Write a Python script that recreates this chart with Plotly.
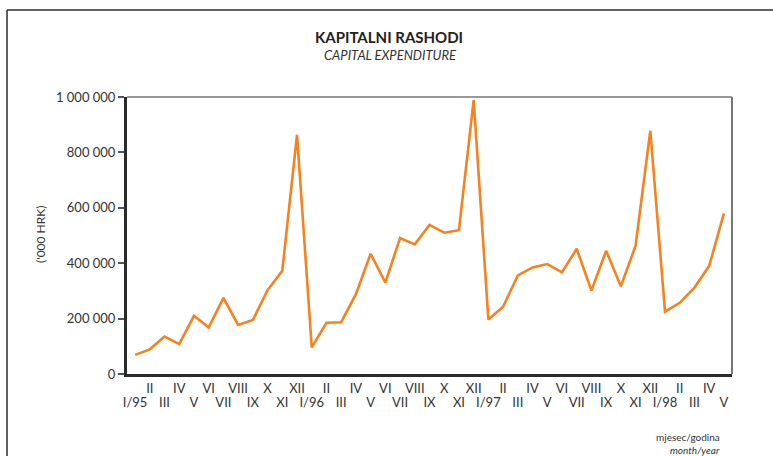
import plotly.graph_objects as go

# Data: monthly capital expenditure ('000 HRK), I/1995 - V/1998
months = ["I/95", "II", "III", "IV", "V", "VI", "VII", "VIII", "IX", "X", "XI", "XII",
          "I/96", "II", "III", "IV", "V", "VI", "VII", "VIII", "IX", "X", "XI", "XII",
          "I/97", "II", "III", "IV", "V", "VI", "VII", "VIII", "IX", "X", "XI", "XII",
          "I/98", "II", "III", "IV", "V"]
values = [69000, 89000, 135000, 108000, 210000, 168000, 275000, 177000, 195000, 303000, 373000, 863000,
          96000, 185000, 187000, 288000, 434000, 330000, 491000, 468000, 538000, 510000, 519000, 989000,
          197000, 243000, 356000, 385000, 397000, 367000, 452000, 301000, 445000, 317000, 463000, 878000,
          225000, 257000, 312000, 390000, 580000]
y_ticks = [0, 200000, 400000, 600000, 800000, 1000000]
y_tick_labels = ["0", "200 000", "400 000", "600 000", "800 000", "1 000 000"]

x = list(range(len(months)))
# two label rows: even months on the upper row, odd months on the lower row
upper_vals = [i for i in x if i % 2 == 1]
upper_text = [months[i] for i in upper_vals]
lower_vals = [i for i in x if i % 2 == 0]
lower_text = [months[i] for i in lower_vals]

FONT = "Lato"
DARK = "#2b2b2b"
TXT = "#333333"

fig = go.Figure()
fig.add_trace(go.Scatter(x=x, y=values, mode="lines",
                         line=dict(color="#F5821F", width=2.6), hoverinfo="skip"))
# invisible helper trace to activate the second x axis (lower label row)
fig.add_trace(go.Scatter(x=x, y=values, mode="lines", xaxis="x2",
                         line=dict(color="rgba(0,0,0,0)", width=0), hoverinfo="skip"))

W, H = 773, 456
L, R, T, B = 127, 41, 97, 82
pw, ph = W - L - R, H - T - B


def px(xp):
    return (xp - L) / pw


def py(yp):
    return (H - B - yp) / ph


xrange_ = [-0.55, 40.55]

fig.update_layout(
    width=W, height=H,
    margin=dict(l=L, r=R, t=T, b=B, autoexpand=False),
    paper_bgcolor="white", plot_bgcolor="white",
    showlegend=False,
    font=dict(family=FONT, color=TXT, size=13),
    xaxis=dict(range=xrange_, tickmode="array", tickvals=upper_vals, ticktext=upper_text,
               tickangle=0, automargin=False,
               showgrid=False, zeroline=False, showline=True, linecolor=DARK, linewidth=3,
               ticks="", tickfont=dict(size=13, family=FONT, color=TXT)),
    xaxis2=dict(range=xrange_, overlaying="x", side="bottom", anchor="y",
                tickmode="array", tickvals=lower_vals, ticktext=lower_text,
                tickangle=0, automargin=False, ticklabelstandoff=19,
                showgrid=False, zeroline=False, showline=False,
                ticks="", tickfont=dict(size=13, family=FONT, color=TXT)),
    yaxis=dict(range=[0, 1000000], tickmode="array", tickvals=y_ticks, ticktext=y_tick_labels,
               automargin=False,
               showgrid=False, zeroline=False, showline=True, linecolor=DARK, linewidth=3,
               ticks="outside", ticklen=6, tickcolor="#555555", tickwidth=1.5,
               tickfont=dict(size=13, family=FONT, color=TXT)),
    shapes=[
        # thin gray top/right plot border
        dict(type="line", xref="paper", yref="paper", x0=0, x1=1, y0=1, y1=1,
             line=dict(color="#777777", width=1.5)),
        dict(type="line", xref="paper", yref="paper", x0=1, x1=1, y0=0, y1=1,
             line=dict(color="#777777", width=2)),
        # page frame (top and left)
        dict(type="line", xref="paper", yref="paper", x0=px(7), x1=px(7), y0=py(10), y1=py(460),
             line=dict(color=DARK, width=1.5)),
        dict(type="line", xref="paper", yref="paper", x0=px(7), x1=px(780), y0=py(10), y1=py(10),
             line=dict(color=DARK, width=1.5)),
    ],
    annotations=[
        dict(text="<b>KAPITALNI RASHODI</b>", xref="paper", yref="paper", x=px(389), y=py(37),
             showarrow=False, xanchor="center", yanchor="middle",
             font=dict(size=15, family=FONT, color="#222222")),
        dict(text="<i>CAPITAL EXPENDITURE</i>", xref="paper", yref="paper", x=px(390), y=py(55),
             showarrow=False, xanchor="center", yanchor="middle",
             font=dict(size=13, family=FONT, color=TXT)),
        dict(text="('000 HRK)", xref="paper", yref="paper", x=px(40), y=py(235),
             showarrow=False, xanchor="center", yanchor="middle", textangle=-90,
             font=dict(size=12, family=FONT, color=TXT)),
        dict(text="mjesec/godina", xref="paper", yref="paper", x=px(722), y=py(437),
             showarrow=False, xanchor="right", yanchor="middle",
             font=dict(size=10, family=FONT, color=TXT)),
        dict(text="<i>month/year</i>", xref="paper", yref="paper", x=px(722), y=py(450),
             showarrow=False, xanchor="right", yanchor="middle",
             font=dict(size=10, family=FONT, color=TXT)),
    ],
)

fig.write_html("out.html", config={"displayModeBar": False},
               post_script="document.body.style.margin='0';document.body.style.overflow='hidden';")
